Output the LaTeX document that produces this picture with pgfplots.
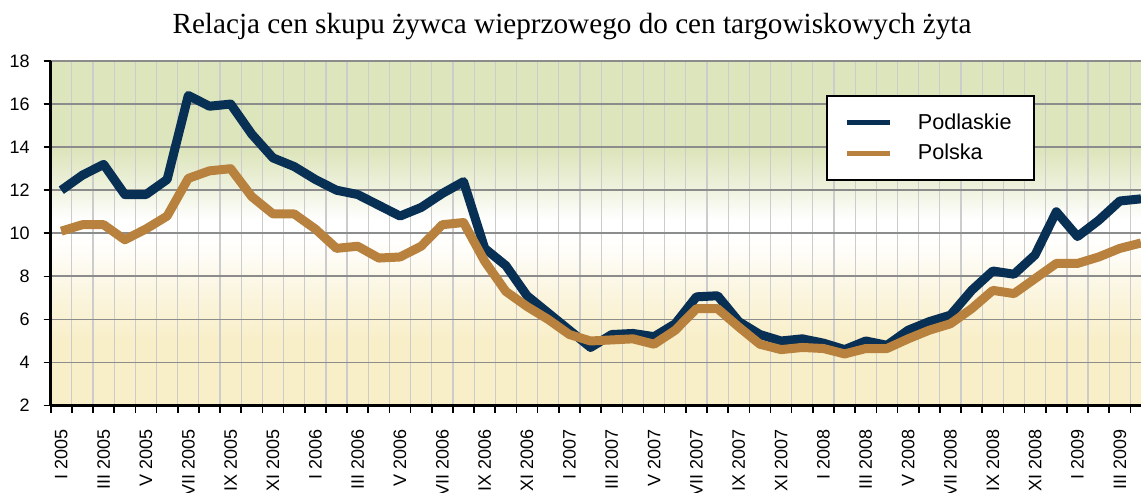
\documentclass[border=0pt]{standalone}
\usepackage{pgfplots}
\pgfplotsset{compat=1.18}
\usepackage{fontspec}
\setmainfont{Liberation Sans}
\newfontfamily\titlefont{Liberation Serif}
\definecolor{podl}{RGB}{8,47,84}
\definecolor{pols}{RGB}{184,130,62}
\definecolor{grn}{RGB}{221,229,188}
\definecolor{yel}{RGB}{248,238,199}
\colorlet{yelA}{yel!60!white}
\colorlet{yelB}{yel!15!white}
\colorlet{grnA}{grn!45!white}
\pgfdeclareverticalshading{bgshade}{100bp}{color(0bp)=(yel); color(34bp)=(yel); color(41bp)=(yelA); color(47bp)=(yelB); color(50bp)=(white); color(52bp)=(white); color(56bp)=(grnA); color(62bp)=(grn); color(100bp)=(grn)}

\pgfplotstableread{
i podl pols
0 12.0 10.1
1 12.7 10.4
2 13.2 10.4
3 11.8 9.7
4 11.8 10.2
5 12.5 10.8
6 16.4 12.55
7 15.9 12.9
8 16.0 13.0
9 14.6 11.7
10 13.5 10.9
11 13.1 10.9
12 12.5 10.2
13 12.0 9.3
14 11.8 9.4
15 11.3 8.85
16 10.8 8.9
17 11.2 9.4
18 11.85 10.4
19 12.4 10.5
20 9.3 8.7
21 8.5 7.3
22 7.1 6.6
23 6.3 6.0
24 5.5 5.3
25 4.7 5.0
26 5.3 5.05
27 5.35 5.1
28 5.2 4.85
29 5.8 5.5
30 7.05 6.5
31 7.1 6.5
32 5.9 5.65
33 5.3 4.85
34 5.0 4.6
35 5.1 4.7
36 4.9 4.65
37 4.6 4.4
38 5.0 4.65
39 4.8 4.65
40 5.5 5.1
41 5.9 5.5
42 6.2 5.8
43 7.35 6.5
44 8.25 7.35
45 8.1 7.2
46 9.0 7.9
47 11.0 8.6
48 9.85 8.6
49 10.6 8.9
50 11.5 9.3
51 11.6 9.55
}\datatable

\begin{document}
\begin{tikzpicture}
\useasboundingbox (0,0) rectangle (570.5bp,246.5bp);
\clip (0,0) rectangle (570.5bp,246.5bp);
\node[font=\titlefont\fontsize{14.6bp}{16bp}\selectfont, anchor=base] at (286bp,229.5bp) {Relacja cen skupu żywca wieprzowego do cen targowiskowych żyta};
\begin{axis}[
  at={(25.35bp,43.7bp)}, anchor=south west,
  width=545.15bp, height=172.3bp, scale only axis,
  xmin=-0.5, xmax=51, ymin=2, ymax=18,
  axis x line*=bottom, axis y line*=left,
  axis line style={line width=1.5bp, black},
  axis background/.style={shading=bgshade},
  xtick={-0.5,0.5,...,51.5}, xticklabels={{}},
  xmajorgrids=true,
  major grid style={color=black!20, line width=0.6bp},
  ytick={2,4,...,18},
  minor ytick={2,4,...,18},
  yminorgrids=true, ymajorgrids=false,
  minor grid style={color=black!45, line width=0.9bp},
  tick align=outside,
  major tick length=3.5bp, minor tick length=3.5bp,
  tick style={black, line width=0.8bp},
  extra x ticks={0,2,...,50},
  extra x tick labels={I 2005,III 2005,V 2005,VII 2005,IX 2005,XI 2005,I 2006,III 2006,V 2006,VII 2006,IX 2006,XI 2006,I 2007,III 2007,V 2007,VII 2007,IX 2007,XI 2007,I 2008,III 2008,V 2008,VII 2008,IX 2008,XI 2008,I 2009,III 2009},
  extra x tick style={grid=none, major tick length=0pt, tick style={draw=none}},
  xticklabel style={rotate=90, anchor=east, font=\fontsize{9bp}{10bp}\selectfont, inner sep=0pt, xshift=-11.5bp},
  yticklabel style={font=\fontsize{9bp}{10bp}\selectfont, xshift=-3.5bp},
  /pgf/number format/assume math mode=true,
  legend style={at={(0.711,0.901)}, anchor=north west, draw=black, line width=1bp, fill=white,
    font=\fontsize{10.8bp}{12bp}\selectfont, inner xsep=9bp, inner ysep=6.75bp, row sep=2bp,
    column sep=10.5bp, nodes={inner sep=2bp}},
  legend cell align=left,
  legend image code/.code={\draw[#1, line width=2.5bp] (0bp,0bp) -- (21.5bp,0bp);},
]
\addplot[podl, line width=4.5bp, line join=round] table[x=i, y=podl] {\datatable};
\addlegendentry{Podlaskie}
\addplot[pols, line width=4.5bp, line join=round] table[x=i, y=pols] {\datatable};
\addlegendentry{Polska}
\end{axis}
\end{tikzpicture}
\end{document}
